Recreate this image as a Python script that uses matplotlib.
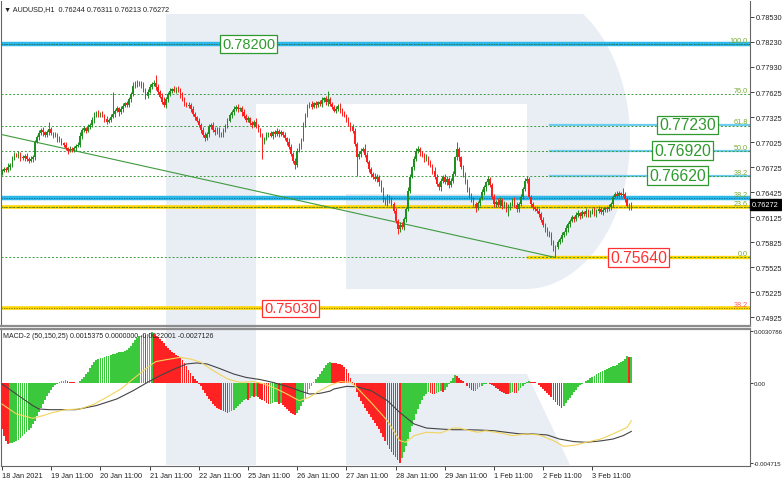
import matplotlib
matplotlib.use('Agg')
import matplotlib.pyplot as plt
import numpy as np
import matplotlib.transforms as mtransforms
from matplotlib.patches import Rectangle, Polygon

plt.rcParams['font.family'] = ['Liberation Sans', 'DejaVu Sans']

# ---------------- data (prices in pips, 1 pip = 0.0001) ----------------
first_open = 7666
closes = [
    7668, 7670, 7669, 7673, 7675, 7684, 7687, 7686, 7688, 7684, 7683, 7686, 7682, 7680, 7682, 7684, 7703, 7708, 7713, 7717, 7714, 7711, 7714, 7718,
    7713, 7710, 7711, 7707, 7705, 7701, 7699, 7695, 7692, 7694, 7693, 7695, 7698, 7699, 7710, 7717, 7719, 7716, 7721, 7723, 7729, 7736, 7738, 7735,
    7737, 7734, 7730, 7727, 7729, 7733, 7736, 7740, 7743, 7738, 7742, 7746, 7749, 7747, 7754, 7760, 7770, 7773, 7774, 7772, 7771, 7765, 7758, 7763,
    7769, 7772, 7773, 7769, 7763, 7757, 7751, 7747, 7754, 7760, 7764, 7766, 7764, 7767, 7765, 7759, 7754, 7749, 7746, 7747, 7742, 7736, 7732, 7728,
    7723, 7717, 7711, 7707, 7712, 7721, 7723, 7717, 7714, 7718, 7713, 7711, 7716, 7722, 7728, 7735, 7738, 7742, 7745, 7742, 7743, 7738, 7734, 7729,
    7731, 7725, 7723, 7727, 7721, 7717, 7710, 7703, 7707, 7711, 7713, 7710, 7714, 7712, 7716, 7712, 7714, 7711, 7707, 7703, 7697, 7688, 7680, 7675,
    7692, 7697, 7706, 7724, 7736, 7745, 7748, 7745, 7749, 7747, 7750, 7748, 7753, 7755, 7750, 7754, 7748, 7745, 7740, 7742, 7746, 7741, 7737, 7734,
    7729, 7724, 7720, 7716, 7700, 7685, 7688, 7692, 7694, 7687, 7679, 7670, 7664, 7661, 7658, 7661, 7654, 7644, 7634, 7629, 7637, 7633, 7628, 7620,
    7608, 7598, 7603, 7601, 7610, 7622, 7644, 7661, 7672, 7682, 7692, 7694, 7690, 7686, 7682, 7684, 7678, 7674, 7668, 7661, 7652, 7648, 7656, 7661,
    7654, 7658, 7651, 7656, 7664, 7684, 7694, 7684, 7672, 7664, 7654, 7646, 7639, 7634, 7628, 7623, 7629, 7635, 7642, 7648, 7654, 7658, 7651, 7637,
    7628, 7631, 7627, 7633, 7626, 7629, 7622, 7624, 7628, 7633, 7627, 7622, 7628, 7637, 7646, 7656, 7658, 7637, 7628, 7624, 7622, 7620, 7616, 7609,
    7603, 7598, 7594, 7591, 7582, 7574, 7577, 7582, 7586, 7591, 7594, 7599, 7604, 7608, 7612, 7610, 7615, 7617, 7614, 7618, 7616, 7620, 7615, 7618,
    7621, 7617, 7620, 7622, 7618, 7621, 7623, 7622, 7624, 7628, 7637, 7640, 7638, 7641, 7639, 7640, 7634, 7626, 7624.4, 7627.2,
]
up_wick = [
    2, 3, 2, 4, 3, 2, 3, 2, 4, 2, 3, 2, 3, 2, 4, 3, 2, 3, 4, 2, 3, 2, 3, 8,
    3, 2, 4, 2, 3, 2, 2, 3, 2, 4, 2, 3, 2, 3, 4, 2, 3, 2, 3, 2, 4, 3, 2, 3,
    2, 3, 2, 4, 2, 3, 26, 2, 3, 2, 4, 3, 2, 3, 2, 3, 4, 3, 3, 2, 4, 3, 2, 3,
    3, 2, 4, 10, 3, 2, 4, 6, 3, 2, 3, 2, 4, 2, 3, 2, 4, 3, 2, 3, 2, 4, 3, 2,
    3, 2, 4, 3, 2, 3, 2, 4, 3, 2, 3, 2, 4, 2, 3, 2, 3, 4, 2, 3, 2, 3, 4, 2,
    3, 2, 3, 2, 4, 3, 2, 3, 2, 4, 2, 3, 2, 3, 4, 2, 3, 2, 3, 2, 4, 3, 2, 3,
    3, 4, 2, 3, 2, 3, 2, 4, 2, 3, 2, 3, 4, 2, 3, 10, 2, 3, 2, 4, 2, 3, 2, 3,
    2, 3, 2, 4, 3, 2, 4, 3, 2, 6, 3, 2, 3, 2, 4, 3, 2, 3, 4, 2, 3, 2, 4, 3,
    3, 2, 4, 3, 2, 3, 4, 3, 2, 4, 3, 4, 3, 2, 3, 4, 2, 3, 2, 4, 3, 2, 3, 2,
    3, 4, 2, 3, 4, 2, 9, 3, 2, 3, 2, 4, 3, 2, 3, 2, 3, 2, 4, 3, 2, 4, 3, 2,
    3, 2, 4, 3, 2, 3, 2, 4, 3, 2, 4, 3, 2, 3, 2, 4, 4, 3, 2, 3, 2, 4, 3, 2,
    3, 2, 3, 2, 4, 3, 2, 3, 2, 3, 2, 4, 3, 2, 3, 2, 3, 4, 2, 3, 2, 3, 2, 3,
    2, 3, 2, 4, 2, 3, 2, 3, 4, 3, 2, 3, 4, 3, 2, 7, 3, 2, 4, 3.9,
]
dn_wick = [
    3, 2, 3, 2, 4, 2, 3, 2, 3, 4, 2, 3, 2, 3, 2, 4, 3, 2, 3, 2, 4, 3, 2, 3,
    2, 3, 2, 4, 3, 2, 3, 2, 4, 2, 3, 2, 3, 2, 3, 4, 2, 3, 2, 3, 2, 4, 3, 2,
    3, 2, 4, 3, 2, 3, 2, 3, 2, 4, 2, 3, 2, 3, 2, 3, 2, 3, 4, 2, 4, 3, 4, 3,
    2, 3, 2, 4, 3, 2, 3, 2, 4, 3, 2, 3, 2, 3, 2, 4, 2, 3, 2, 3, 4, 2, 3, 2,
    3, 4, 2, 3, 2, 4, 3, 2, 3, 2, 4, 2, 3, 2, 3, 2, 4, 3, 2, 3, 2, 4, 3, 2,
    3, 2, 4, 3, 2, 3, 2, 21, 3, 2, 3, 2, 4, 3, 2, 3, 2, 3, 2, 4, 3, 2, 3, 5,
    3, 2, 3, 2, 4, 3, 2, 3, 2, 4, 3, 2, 3, 2, 3, 4, 2, 3, 2, 3, 2, 4, 3, 2,
    3, 2, 4, 3, 2, 23, 3, 4, 2, 3, 2, 3, 4, 3, 2, 3, 4, 2, 3, 2, 3, 4, 2, 3,
    3, 6, 4, 3, 4, 3, 2, 3, 2, 3, 2, 3, 4, 2, 3, 2, 3, 2, 4, 3, 2, 3, 4, 3,
    2, 3, 4, 2, 3, 2, 3, 4, 2, 3, 2, 3, 4, 3, 2, 4, 2, 3, 2, 3, 4, 3, 2, 3,
    4, 3, 2, 3, 4, 3, 4, 8, 3, 2, 3, 4, 3, 2, 3, 2, 3, 2, 4, 3, 2, 3, 4, 3,
    2, 3, 4, 2, 3, 2, 10, 3, 2, 3, 2, 3, 4, 3, 2, 3, 2, 3, 4, 3, 2, 3, 2, 3,
    2, 3, 4, 3, 2, 3, 2, 3, 2, 3, 4, 2, 3, 2, 3, 2, 3, 2, 4, 3.1,
]
# MACD-2 histogram, units of 0.00001
macd_hist = [
    -271, -310, -339, -359, -355, -351, -347, -341, -334, -324, -314, -302, -290, -277, -263, -243, -224, -196, -173, -149, -126, -102, -78, -59,
    -39, -24, -12, -4, 4, 10, 14, 16, 12, 8, 6, 4, 2, 1, 10, 24, 37, 51, 67, 86, 106, 122, 133, 141,
    145, 149, 153, 157, 161, 165, 169, 173, 177, 181, 182, 184, 188, 196, 206, 220, 235, 251, 265, 275, 283, 287, 285, 290,
    296, 300, 286, 279, 269, 259, 247, 235, 220, 208, 196, 184, 175, 167, 159, 149, 135, 118, 98, 78, 59, 41, 24, 10,
    -4, -20, -39, -59, -78, -94, -108, -122, -133, -145, -153, -161, -167, -171, -175, -171, -165, -157, -145, -133, -122, -110, -100, -94,
    -98, -88, -78, -84, -75, -82, -92, -100, -108, -116, -126, -122, -118, -114, -112, -122, -118, -130, -141, -153, -165, -175, -182, -186,
    -177, -159, -137, -114, -88, -61, -35, -16, 8, 24, 35, 55, 72, 89, 105, 115, 122, 120, 118, 116, 114, 112, 106, 94,
    82, 59, 27, 4, -26, -55, -80, -104, -126, -145, -163, -181, -198, -216, -233, -251, -271, -294, -318, -341, -365, -388, -408, -424,
    -438, -451, -471, -443, -408, -369, -330, -290, -251, -216, -182, -153, -124, -98, -78, -65, -55, -61, -65, -67, -59, -51, -47, -55,
    -39, -24, -8, 10, 31, 49, 43, 31, 20, 10, 2, -16, -31, -43, -49, -45, -35, -26, -16, -8, -4, -2, -6, -12,
    -20, -29, -37, -45, -53, -59, -65, -67, -59, -53, -57, -59, -45, -29, -16, -6, 4, 10, 8, 6, 4, 0, -10, -22,
    -35, -47, -59, -71, -84, -98, -114, -128, -137, -145, -137, -118, -102, -86, -71, -55, -39, -26, -14, -6, 2, 12, 20, 27,
    35, 43, 51, 59, 65, 71, 77, 82, 86, 92, 98, 102, 108, 116, 124, 131, 143, 157, 152, 153.75,
]
black_bars = [0, 15, 18, 23, 36, 46, 56, 64, 71, 77, 84, 90, 95, 100, 106, 113, 119, 126, 132, 139,
              145, 150, 155, 160, 162, 168, 173, 180, 188, 194, 201, 207, 214, 220, 227, 233, 240, 246, 253, 259,
              266, 272, 279, 285, 292, 298, 303, 307]
black_vals = [-6, -133, -153, -157, -157, -133, -94, -45, 4, 43, 82, 112, 118, 112, 86, 53, 33, 20, 4, -20,
              -45, -65, -61, -48, -35, -20, -22, -45, -104, -173, -241, -265, -271, -275, -275, -277, -281, -290, -300, -300,
              -306, -330, -345, -349, -341, -330, -310, -285]
yellow_bars = [0, 7, 15, 20, 25, 31, 38, 45, 51, 58, 64, 71, 75, 80, 87, 92, 97, 103, 110, 116,
               123, 128, 134, 139, 145, 150, 155, 160, 165, 170, 173, 180, 188, 194, 197, 201, 207, 214, 220, 223,
               227, 232, 236, 243, 249, 256, 262, 269, 274, 280, 285, 292, 298, 305, 307]
yellow_vals = [-124, -182, -208, -192, -173, -157, -153, -124, -84, -35, 24, 92, 126, 137, 151, 141, 122, 73, 24, 4,
               8, -6, -35, -65, -104, -84, -45, -13, 8, 4, -26, -114, -222, -339, -349, -310, -290, -294, -265, -265,
               -277, -290, -281, -294, -310, -300, -306, -339, -373, -365, -349, -330, -300, -261, -222]

xtick_bars = [0, 24, 48, 72, 96, 120, 144, 168, 192, 216, 240, 264, 288]
xtick_labels = ['18 Jan 2021', '19 Jan 11:00', '20 Jan 11:00', '21 Jan 11:00', '22 Jan 11:00',
                '25 Jan 11:00', '26 Jan 11:00', '27 Jan 11:00', '28 Jan 11:00', '29 Jan 11:00',
                '1 Feb 11:00', '2 Feb 11:00', '3 Feb 11:00']
price_ticks = [0.78530, 0.78230, 0.77930, 0.77625, 0.77325, 0.77025, 0.76725,
               0.76425, 0.76125, 0.75825, 0.75525, 0.75225, 0.74925]
macd_ticks = [0.0030786, 0.0, -0.004715]
macd_tick_labels = ['0.0030786', '0.00', '-0.004715']

fib_levels = [0.78200, 0.77596, 0.77222, 0.76920, 0.76618, 0.76244, 0.75640]
fib_names = ['100.0', '76.0', '61.8', '50.0', '38.2', '23.6', '0.0']
level_main = [0.78200, 0.76355]          # thick cyan
level_yellow = [0.76244, 0.75030]        # thick yellow
level_short = [0.77230, 0.76920, 0.76620]  # short cyan
last_price = 0.76272
trend_bars = [-1, 270]
trend_prices = [0.77120, 0.75640]

# ---------------- figure ----------------
W, H = 782, 481
fig = plt.figure(figsize=(W / 100, H / 100), dpi=100)
fig.patch.set_facecolor('white')

# watermark logo in pixel coordinates
bg = fig.add_axes([0, 0, 1, 1], zorder=-5)
bg.set_xlim(0, W)
bg.set_ylim(H, 0)
bg.axis('off')
WM = '#E9EDF4'
bg.add_patch(Rectangle((166, 15), 90, 451, fc=WM, ec='none'))
t = np.linspace(np.arcsin(-125 / 150), np.pi / 2, 80)
ex = 525 + 105 * np.cos(t)
ey = 140 + 150 * np.sin(t)
bowl = [(166, 15)] + list(zip(ex, ey)) + [(166, 290)]
bg.add_patch(Polygon(bowl, closed=True, fc=WM, ec='none'))
bg.add_patch(Rectangle((256, 105), 271, 90, fc='white', ec='none'))
bg.add_patch(Rectangle((256, 195), 90, 96, fc='white', ec='none'))
bg.add_patch(Polygon([(346, 375), (527, 375), (570, 466), (346, 466)], closed=True, fc=WM, ec='none'))

ax = fig.add_axes([1 / W, 1 - 327 / H, 749 / W, 325 / H], zorder=1)
ax2 = fig.add_axes([1 / W, 1 - 467 / H, 749 / W, 137 / H], zorder=1)
XL = (-0.49, 364.9)
for a in (ax, ax2):
    a.set_facecolor('none')
    a.set_xlim(*XL)
ax.set_ylim(0.74818, 0.78718)
ax2.set_ylim(-0.0048858, 0.0031787)

# ---------------- candles ----------------
c = np.array(closes, dtype=float) / 1e4
o = np.r_[first_open, closes[:-1]].astype(float) / 1e4
hi = np.maximum(o, c) + np.array(up_wick) / 1e4
lo = np.minimum(o, c) - np.array(dn_wick) / 1e4
idx = np.arange(len(c))
BULL, BEAR = '#1F8F1F', '#FF1E1E'
bull = c >= o
for m, colr in ((bull, BULL), (~bull, BEAR)):
    ax.vlines(idx[m], lo[m], hi[m], colors=colr, lw=0.7, zorder=5)
    ax.bar(idx[m], np.maximum(np.abs(c - o), 0.00004)[m], bottom=np.minimum(o, c)[m],
           width=0.7, color=colr, lw=0, zorder=6)

# ---------------- levels ----------------
tr = mtransforms.blended_transform_factory(ax.transAxes, ax.transData)
FIBC = '#3E9B3E'
for lv in fib_levels:
    ax.axhline(lv, color=FIBC, lw=0.7, ls=(0, (2, 2)), zorder=3)
for lv in level_main:
    ax.axhline(lv, color='#2CB8EA', lw=3.2, zorder=2)
    ax.axhline(lv, color='#1a6f8a', lw=0.6, ls=(0, (1.5, 1.5)), zorder=3)
for lv in level_yellow:
    ax.axhline(lv, color='#FFD500', lw=2.6, zorder=2)
    ax.axhline(lv, color='#7a7a10', lw=0.6, ls=(0, (1.5, 1.5)), zorder=3)
x_short = (550 - 1) / 749
for lv in level_short:
    ax.plot([x_short, 1.0], [lv, lv], transform=tr, color='#6CCDF0', lw=1.6, zorder=2)
x_y0 = (528 - 1) / 749
ax.plot([x_y0, 1.0], [fib_levels[-1]] * 2, transform=tr, color='#FFD500', lw=2.4, zorder=2)

ax.plot(trend_bars, trend_prices, color='#3E9B3E', lw=0.8, zorder=4)

LBLC = '#77AA33'
xr = (748 - 1) / 749
for lv, nm in zip(fib_levels, fib_names):
    ax.text(xr, lv + 0.00003, nm, transform=tr, ha='right', va='bottom', fontsize=5.2, color=LBLC, zorder=8)
ax.text(xr, level_main[1] + 0.00003, '38.2', transform=tr, ha='right', va='bottom', fontsize=5.2, color=LBLC, zorder=8)
ax.text(xr, level_yellow[1] + 0.00003, '38.2', transform=tr, ha='right', va='bottom', fontsize=5.2, color='#FF5A5A', zorder=8)


def box(px_left, price, text, color, fs):
    ax.text((px_left + 2 - 1) / 749, price, text, transform=tr, fontsize=fs, color=color,
            ha='left', va='center', zorder=10,
            bbox=dict(boxstyle='square,pad=0.12', fc='white', ec=color, lw=0.9))


GREEN_T, RED_T = '#2E9A2E', '#FF3030'
box(220, 0.78200, '0.78200', GREEN_T, 10.5)
box(657, 0.77230, '0.77230', GREEN_T, 11.3)
box(652, 0.76920, '0.76920', GREEN_T, 11.3)
box(647, 0.76620, '0.76620', GREEN_T, 11.3)
box(608, 0.75640, '0.75640', RED_T, 11.3)
box(262, 0.75030, '0.75030', RED_T, 10.5)

# ---------------- axes styling ----------------
ax.yaxis.tick_right()
ax.set_yticks(price_ticks)
ax.set_yticklabels([f'{v:.5f}' for v in price_ticks])
ax.tick_params(axis='y', direction='out', length=3, width=0.6, pad=1.5, labelsize=5.3,
               colors='#222222')
ax.tick_params(axis='x', bottom=False, labelbottom=False)
ax.text(1.0 + 2 / 749, last_price, '0.76272', transform=tr, fontsize=5.3, color='white',
        ha='left', va='center', zorder=12,
        bbox=dict(boxstyle='square,pad=0.25', fc='black', ec='black'))

for a in (ax, ax2):
    for s in a.spines.values():
        s.set_color('#666666')
        s.set_linewidth(0.8)
ax.spines['top'].set_visible(False)
ax.spines['bottom'].set_color('#8c8c8c')
ax.spines['bottom'].set_linewidth(1.6)
ax2.spines['top'].set_color('#8c8c8c')
ax2.spines['top'].set_linewidth(1.6)

ax.text(3 / 749, 1 - 4 / 325, '\u25bc AUDUSD,H1  0.76244 0.76311 0.76213 0.76272', transform=ax.transAxes,
        fontsize=5.2, color='#222222', ha='left', va='top', zorder=12)

# ---------------- MACD panel ----------------
h = np.array(macd_hist, dtype=float) / 1e5
rising = np.r_[False, h[1:] > h[:-1]]
ax2.bar(idx[rising], h[rising], width=0.85, color='#3CC83C', lw=0, zorder=3)
ax2.bar(idx[~rising], h[~rising], width=0.85, color='#FF2222', lw=0, zorder=3)
ax2.plot(black_bars, np.array(black_vals) / 1e5, color='#444444', lw=0.8, zorder=4)
ax2.plot(yellow_bars, np.array(yellow_vals) / 1e5, color='#F2D45A', lw=0.8, zorder=4)

ax2.yaxis.tick_right()
ax2.set_yticks(macd_ticks)
ax2.set_yticklabels(macd_tick_labels)
ax2.tick_params(axis='y', direction='out', length=2, width=0.6, pad=1, labelsize=4.4,
                colors='#222222')
ax2.set_xticks(xtick_bars)
ax2.set_xticklabels(xtick_labels, ha='left')
ax2.tick_params(axis='x', direction='out', length=3, width=0.6, pad=1.5, labelsize=5.3,
                colors='#222222')
ax2.text(2 / 749, 1 - 3 / 137, 'MACD-2 (50,150,25) 0.0015375 0.0000000 -0.0022001 -0.0027126',
         transform=ax2.transAxes, fontsize=5.0, color='#222222', ha='left', va='top', zorder=12)

fig.savefig('out.png', dpi=100)
